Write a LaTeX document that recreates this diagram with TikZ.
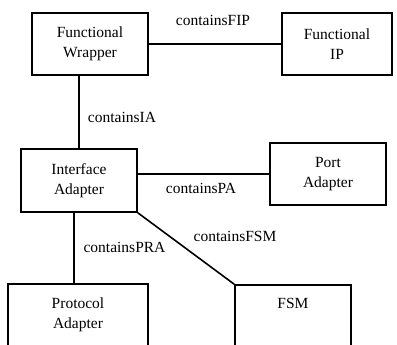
\documentclass[tikz,border=0pt]{standalone}
\usepackage{fontspec}
\setmainfont{Liberation Serif}
\usetikzlibrary{positioning}
\tikzset{
    block/.style={rectangle,draw,line width=1.6pt,minimum width=116pt,minimum height=62pt,inner sep=0pt,align=center,font=\fontsize{15.5}{20}\selectfont},
    rel/.style={line width=1.6pt},
    relname/.style={inner sep=0pt,font=\fontsize{15.5}{20}\selectfont}
}

\begin{document}
\begin{tikzpicture}[x=1pt,y=-1pt]

                \clip (0,0) rectangle (397,345);

                \node[block] (wrapper) at (90,44)                      {Functional\\Wrapper};
                \node[block,minimum width=110pt] (fip) at (337,44)     {Functional\\IP};
                \node[block,minimum height=63pt] (interface) at (79,180.5) {Interface\\Adapter};
                \node[block] (port) at (328,174)                       {Port\\Adapter};
                \node[block,minimum width=140pt] (protocol) at (78,315) {Protocol\\Adapter};
                \node[block] (fsm) at (293,316)                        {FSM\\\strut};

                \draw[rel] (wrapper) -- (fip);
                \draw[rel] (interface.north) -- (interface.north |- wrapper.south);
                \draw[rel] (port.west) -- (port.west -| interface.east);
                \draw[rel] ([xshift=-5pt]interface.south) -- ([xshift=-5pt]interface.south |- protocol.north);
                \draw[rel] (interface.south east) -- (fsm.north west);

                \node[relname] (fip label) at (213,20)        {containsFIP};
                \node[relname] (ia label) at (122,117)        {containsIA};
                \node[relname] (pa label) at (201,188)        {containsPA};
                \node[relname] (pra label) at (124.5,247)     {containsPRA};
                \node[relname] (fsm label) at (235,236)       {containsFSM};

            \end{tikzpicture}
\end{document}
